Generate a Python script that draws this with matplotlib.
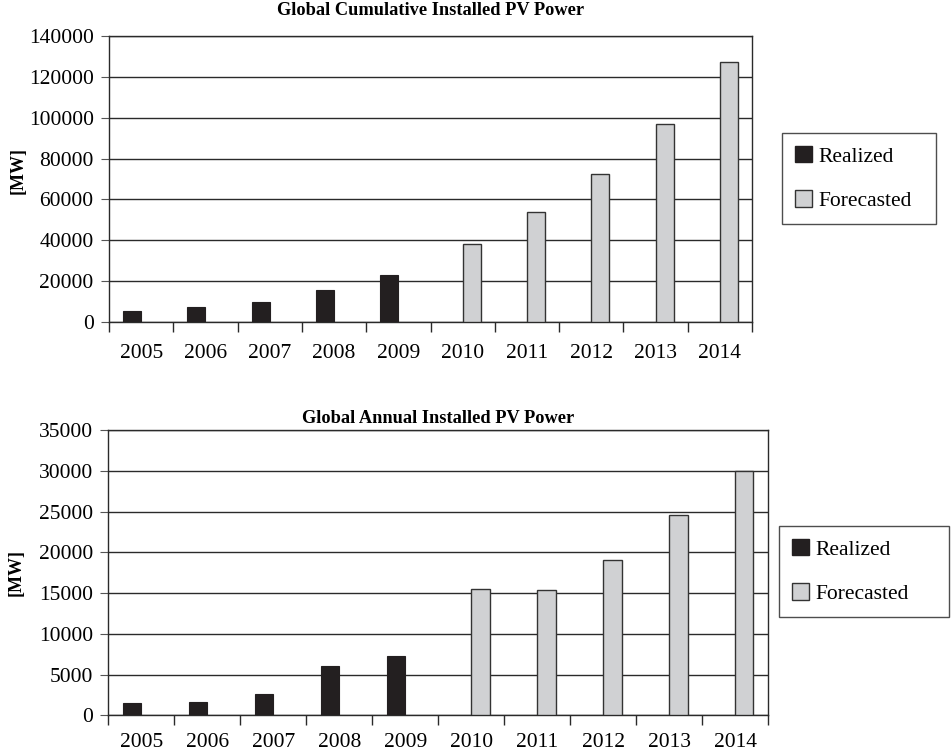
import matplotlib
matplotlib.use("Agg")
import matplotlib.pyplot as plt
from matplotlib.patches import Patch
import numpy as np

years = ["2005", "2006", "2007", "2008", "2009", "2010", "2011", "2012", "2013", "2014"]
cum_realized = [5400, 7200, 9600, 15700, 23000, None, None, None, None, None]
cum_forecast = [None, None, None, None, None, 38200, 53700, 72600, 97100, 127100]
ann_realized = [1450, 1600, 2600, 6100, 7250, None, None, None, None, None]
ann_forecast = [None, None, None, None, None, 15500, 15400, 19100, 24600, 30000]

series_labels = ["Realized", "Forecasted"]
titles = ["Global Cumulative Installed PV Power", "Global Annual Installed PV Power"]
ylabel = "[MW]"
ylims = [(0, 140000), (0, 35000)]
ysteps = [20000, 5000]

plt.rcParams['font.family'] = ['Liberation Serif', 'DejaVu Serif']
plt.rcParams['font.size'] = 15

W, H = 951, 753
fig = plt.figure(figsize=(W / 100, H / 100), dpi=100)
ax1 = fig.add_axes([109 / W, 1 - 322 / H, (752 - 109) / W, (322 - 36) / H])
ax2 = fig.add_axes([108.3 / W, 1 - 715.3 / H, (768 - 108.3) / W, (715.3 - 430) / H])

c_real = "#231f20"
c_fore = "#d0d1d3"
w = 0.28
grid_c = "#2a2a2a"
fs_tick = 15.5


def draw(ax, realized, forecast, title, ylim, step, legend_box, label_pad, title_pad, ylab_xy):
    x = np.arange(len(years))
    ri = [i for i, v in enumerate(realized) if v is not None]
    fi = [i for i, v in enumerate(forecast) if v is not None]
    ax.bar(x[ri] - w / 2, [realized[i] for i in ri], width=w, color=c_real,
           edgecolor=c_real, linewidth=0.8, zorder=3)
    ax.bar(x[fi] + w / 2, [forecast[i] for i in fi], width=w, color=c_fore,
           edgecolor="#333333", linewidth=1.0, zorder=3)
    ax.set_xlim(-0.5, len(years) - 0.5)
    ax.set_ylim(*ylim)
    ax.set_yticks(np.arange(ylim[0], ylim[1] + 1, step))
    ax.yaxis.grid(True, color=grid_c, linewidth=1.0, zorder=1)
    ax.set_axisbelow(True)
    ax.set_xticks(np.arange(-0.5, len(years), 1.0))
    ax.set_xticklabels([])
    ax.set_xticks(x, minor=True)
    ax.set_xticklabels(years, minor=True, fontsize=fs_tick)
    ax.tick_params(axis='x', which='major', direction='out', length=7, width=1, color=grid_c)
    ax.tick_params(axis='x', which='minor', length=0, pad=label_pad)
    ax.tick_params(axis='y', direction='out', length=6, width=0.8, color="#555555",
                   pad=5, labelsize=fs_tick)
    for s in ax.spines.values():
        s.set_color(grid_c)
        s.set_linewidth(1.0)
    ax.set_title(title, fontweight='bold', fontsize=13.2, pad=title_pad)
    fig.text(ylab_xy[0] / W, 1 - ylab_xy[1] / H, ylabel, fontweight='bold', fontsize=13,
             rotation=90, ha='center', va='center')
    handles = [Patch(facecolor=c_real, edgecolor=c_real), Patch(facecolor=c_fore, edgecolor="#333333")]
    bx, by, bw, bh = legend_box
    leg = fig.legend(handles, series_labels, loc='upper left',
                     bbox_to_anchor=(bx / W, 1 - (by + bh) / H, bw / W, bh / H),
                     mode='expand', borderaxespad=0,
                     bbox_transform=fig.transFigure, frameon=True, fancybox=False,
                     edgecolor="#222222", handlelength=0.8, handleheight=0.8,
                     handletextpad=0.3, labelspacing=1.1, borderpad=0.6, fontsize=15.5)
    leg.get_frame().set_linewidth(1.0)


draw(ax1, cum_realized, cum_forecast, titles[0], ylims[0], ysteps[0],
     (782, 133, 154, 90), 16, 15, (18, 170))
draw(ax2, ann_realized, ann_forecast, titles[1], ylims[1], ysteps[1],
     (779, 526, 170, 90), 13, 5, (16, 573))

fig.savefig("out.png", dpi=100)
